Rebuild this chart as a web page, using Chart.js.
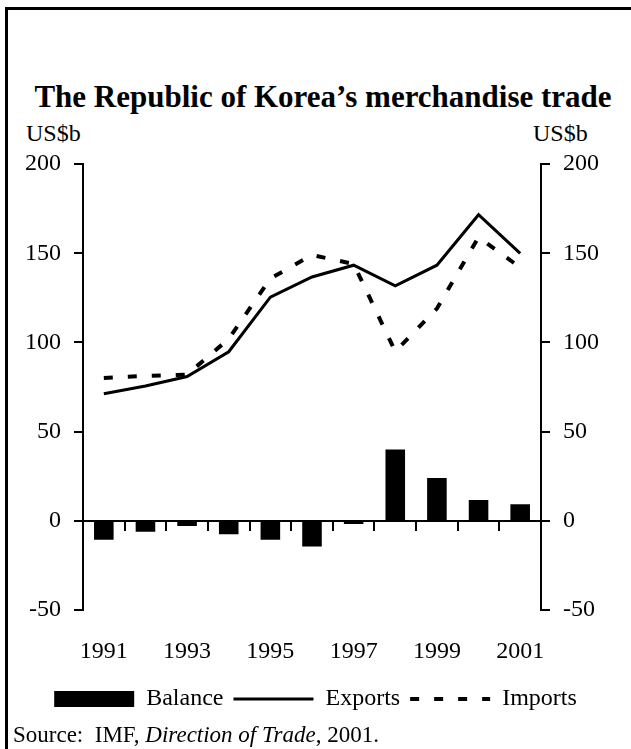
<!DOCTYPE html>
<html>
<head>
<meta charset="utf-8">
<script src="https://cdn.jsdelivr.net/npm/chart.js@4/dist/chart.umd.min.js"></script>
<style>
  body { margin: 0; background: #fff; }
  #hoja { position: relative; width: 631px; height: 749px; overflow: hidden; font-family: "Liberation Serif", "Times New Roman", serif; color: #000; }
  #marco { position: absolute; left: 5px; top: 7px; right: -10px; bottom: -10px; border-left: 3px solid #000; border-top: 3px solid #000; }
  #titulo { position: absolute; left: 0; width: 646px; top: 81px; text-align: center; font-weight: bold; font-size: 31px; line-height: 31px; white-space: nowrap; }
  .unidad { position: absolute; top: 121px; font-size: 24px; line-height: 24px; }
  #fuente { position: absolute; left: 13px; top: 723px; font-size: 23px; line-height: 24px; white-space: nowrap; }
  canvas { position: absolute; left: 0; top: 0; }
</style>
</head>
<body>
<div id="hoja">
  <div id="marco"></div>
  <div id="titulo">The Republic of Korea’s merchandise trade</div>
  <div class="unidad" style="left:26px">US$b</div>
  <div class="unidad" style="left:533px">US$b</div>
  <canvas id="grafico" width="631" height="749"></canvas>
  <div id="fuente">Source:&nbsp; IMF, <i>Direction of Trade</i>, 2001.</div>
</div>
<script>
// datos (miles de millones de US$)
const anios = ["1991", "1992", "1993", "1994", "1995", "1996", "1997", "1998", "1999", "2000", "2001"];
const balance = [-10.5, -6, -2.8, -7.4, -10.5, -14.3, -1.7, 40, 24, 11.7, 9.4];
const exportaciones = [71.3, 75.6, 80.9, 94.8, 125.4, 136.7, 143.3, 131.7, 143.3, 171.6, 149.9];
const importaciones = [80.1, 81.3, 82, 102, 135.8, 149, 144, 95, 119, 159, 142];
const ejeY = { min: -50, max: 200, paso: 50 };

Chart.defaults.font.family = '"Liberation Serif", "Times New Roman", serif';
Chart.defaults.font.size = 24;
Chart.defaults.color = "#000";

const ejeVertical = (posicion, ancho) => ({
  position: posicion,
  min: ejeY.min,
  max: ejeY.max,
  ticks: { stepSize: ejeY.paso, padding: 13, color: "#000" },
  grid: { drawOnChartArea: false, drawTicks: true, tickLength: 9, color: "#000", lineWidth: 2 },
  border: { display: true, color: "#000", width: 2 },
  afterFit: (s) => { s.width = ancho; }
});

new Chart(document.getElementById("grafico"), {
  type: "bar",
  data: {
    labels: anios,
    datasets: [
      {
        type: "bar",
        label: "Balance",
        data: balance,
        backgroundColor: "#000",
        borderWidth: 0,
        barPercentage: 0.47,
        categoryPercentage: 1,
        order: 2
      },
      {
        type: "line",
        label: "Exports",
        data: exportaciones,
        borderColor: "#000",
        backgroundColor: "#000",
        borderWidth: 3,
        pointRadius: 0,
        tension: 0,
        fill: false,
        order: 1
      },
      {
        type: "line",
        label: "Imports",
        data: importaciones,
        borderColor: "#000",
        backgroundColor: "#000",
        borderWidth: 4,
        borderDash: [9, 15],
        pointRadius: 0,
        tension: 0,
        fill: false,
        order: 0
      }
    ]
  },
  options: {
    responsive: false,
    animation: false,
    layout: { padding: { top: 164, left: 0, right: 0, bottom: 28 } },
    scales: {
      x: {
        type: "category",
        position: "bottom",
        offset: true,
        grid: { display: false, drawTicks: false, offset: true },
        border: { display: false },
        ticks: {
          padding: 27,
          maxRotation: 0,
          autoSkip: false,
          color: "#000",
          callback: function (v, i) { return i % 2 === 0 ? this.getLabelForValue(v) : ""; }
        },
        afterFit: (s) => { s.height = s.height - 16; }
      },
      xCero: {
        type: "category",
        axis: "x",
        labels: anios,
        position: { y: 0 },
        offset: true,
        grid: { offset: true, drawOnChartArea: false, drawTicks: true, tickLength: 9, color: "#000", lineWidth: 2 },
        border: { display: true, color: "#000", width: 2 },
        ticks: { display: false }
      },
      y: ejeVertical("left", 83),
      yDer: ejeVertical("right", 90)
    },
    plugins: {
      tooltip: { enabled: false },
      title: { display: false },
      legend: {
        position: "bottom",
        labels: {
          usePointStyle: true,
          pointStyleWidth: 80,
          boxHeight: 16,
          padding: 10,
          color: "#000",
          font: { size: 24 },
          generateLabels: (chart) => chart.data.datasets.map((ds, i) => ({
            text: ds.label,
            fillStyle: "#000",
            strokeStyle: "#000",
            lineWidth: ds.type === "line" ? ds.borderWidth : 0,
            lineDash: ds.borderDash || [],
            pointStyle: ds.type === "line" ? "line" : "rect",
            fontColor: "#000",
            hidden: false,
            datasetIndex: i
          }))
        }
      }
    }
  }
});
</script>
</body>
</html>
